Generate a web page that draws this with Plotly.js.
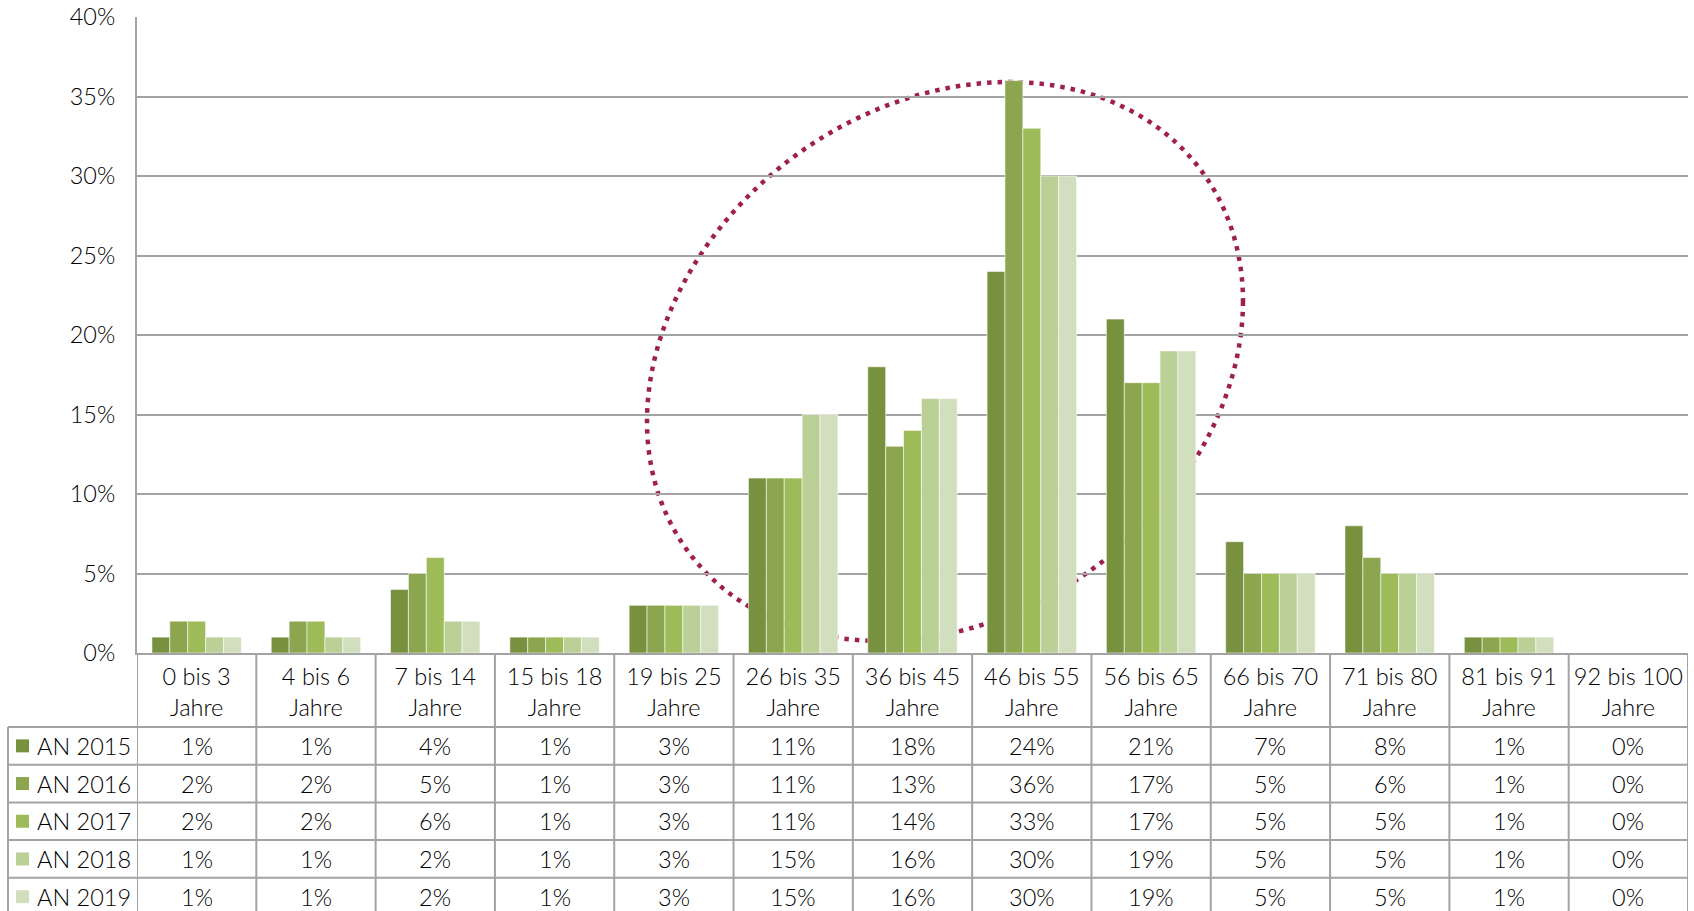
<!DOCTYPE html>
<html>
<head>
<meta charset="utf-8">
<script src="https://cdn.plot.ly/plotly-3.0.1.min.js"></script>
<style>html,body{margin:0;padding:0;background:#fff;}#chart{width:1694px;height:911px;}</style>
</head>
<body>
<div id="chart"></div>
<script>
// ---- data ----
const categories = ['0 bis 3<br>Jahre', '4 bis 6<br>Jahre', '7 bis 14<br>Jahre', '15 bis 18<br>Jahre', '19 bis 25<br>Jahre', '26 bis 35<br>Jahre', '36 bis 45<br>Jahre', '46 bis 55<br>Jahre', '56 bis 65<br>Jahre', '66 bis 70<br>Jahre', '71 bis 80<br>Jahre', '81 bis 91<br>Jahre', '92 bis 100<br>Jahre'];
const seriesNames = ['AN 2015', 'AN 2016', 'AN 2017', 'AN 2018', 'AN 2019'];
const an2015 = [1, 1, 4, 1, 3, 11, 18, 24, 21, 7, 8, 1, 0];
const an2016 = [2, 2, 5, 1, 3, 11, 13, 36, 17, 5, 6, 1, 0];
const an2017 = [2, 2, 6, 1, 3, 11, 14, 33, 17, 5, 5, 1, 0];
const an2018 = [1, 1, 2, 1, 3, 15, 16, 30, 19, 5, 5, 1, 0];
const an2019 = [1, 1, 2, 1, 3, 15, 16, 30, 19, 5, 5, 1, 0];
const yTickVals = [0, 5, 10, 15, 20, 25, 30, 35, 40];
const yTickText = ['0%', '5%', '10%', '15%', '20%', '25%', '30%', '35%', '40%'];

// ---- style ----
const seriesValues = [an2015, an2016, an2017, an2018, an2019];
const colors = ['#77913f', '#8ba64f', '#9dbb59', '#bbd097', '#d2dfbe'];
const FONT = 'Lato, "Open Sans", sans-serif';
const FS = 23.5;
const FW = 300;
const TXT = '#000000';
const W = 1694, H = 911;
const L = 137, R = 1688, T = 17, B = 653;
const PW = R - L, PH = B - T;
const headerBottom = 727, rowH = 37.7, legendLeft = 8;
const lineCol = '#a3a3a3';
const px2x = p => (p - L) / PW;
const px2y = p => (B - p) / PH;
const fnt = {family: FONT, size: FS, color: TXT, weight: FW};

const traces = seriesNames.map((n, i) => ({
  type: 'bar', name: n, x: categories, y: seriesValues[i],
  marker: {color: colors[i], line: {color: 'rgba(255,255,255,0.55)', width: 1}},
  hoverinfo: 'x+y+name'
}));

const shapes = [];
const annotations = [];
// table horizontal lines
for (let r = 0; r <= 5; r++) {
  const y = headerBottom + r * rowH;
  shapes.push({type: 'line', xref: 'paper', yref: 'paper', x0: px2x(legendLeft), x1: 1, y0: px2y(y), y1: px2y(y), line: {color: lineCol, width: 2}});
}
// table vertical lines at category boundaries
for (let j = 0; j <= categories.length; j++) {
  shapes.push({type: 'line', xref: 'x', yref: 'paper', x0: j - 0.5, x1: j - 0.5, y0: 0, y1: px2y(H + 20), line: {color: lineCol, width: 2}});
}
shapes.push({type: 'line', xref: 'paper', yref: 'paper', x0: px2x(legendLeft), x1: px2x(legendLeft), y0: px2y(headerBottom), y1: px2y(H + 20), line: {color: lineCol, width: 2}});

// legend cells and values
seriesNames.forEach((n, i) => {
  const cy = headerBottom + rowH * i + rowH / 2;
  shapes.push({type: 'rect', xref: 'paper', yref: 'paper', x0: px2x(16), x1: px2x(29), y0: px2y(cy - 6.5), y1: px2y(cy + 6.5), fillcolor: colors[i], line: {width: 0}});
  annotations.push({xref: 'paper', yref: 'paper', x: px2x(35), y: px2y(cy), xanchor: 'left', yanchor: 'middle', text: n, showarrow: false, font: fnt});
  seriesValues[i].forEach((v, j) => {
    annotations.push({xref: 'x', yref: 'paper', x: categories[j], y: px2y(cy), xanchor: 'center', yanchor: 'middle', text: v + '%', showarrow: false, font: fnt});
  });
});

// dotted ellipse highlight
const ex = 945, ey = 361.5, ax = 298, ay = 279.5, dl = 0.2164;
let path = '';
for (let k = 0; k <= 180; k++) {
  const t = 2 * Math.PI * k / 180;
  const x = ex + ax * Math.cos(t);
  const y = ey + ay * Math.sin(t - dl);
  path += (k === 0 ? 'M' : 'L') + px2x(x).toFixed(5) + ',' + px2y(y).toFixed(5);
}
path += 'Z';
shapes.push({type: 'path', xref: 'paper', yref: 'paper', path: path, layer: 'between', line: {color: '#9e1f50', width: 4.5, dash: '4.5px,6px'}});

const layout = {
  width: W, height: H,
  margin: {l: L, r: W - R, t: T, b: H - B, pad: 0},
  paper_bgcolor: '#ffffff', plot_bgcolor: '#ffffff',
  barmode: 'group', bargap: 0.25, bargroupgap: 0,
  showlegend: false,
  font: fnt,
  xaxis: {
    type: 'category', range: [-0.5, categories.length - 0.5], fixedrange: true,
    showline: true, linecolor: lineCol, linewidth: 2, showgrid: false,
    ticks: '', tickangle: 0, ticklabelstandoff: 2,
    tickfont: fnt
  },
  yaxis: {
    range: [0, 40], tickvals: yTickVals, ticktext: yTickText, fixedrange: true,
    showgrid: true, gridcolor: lineCol, gridwidth: 2, zeroline: false,
    showline: true, linecolor: lineCol, linewidth: 2,
    ticks: '', ticklabelstandoff: 15,
    tickfont: fnt
  },
  shapes: shapes,
  annotations: annotations
};

Plotly.newPlot('chart', traces, layout, {displayModeBar: false, staticPlot: true});
</script>
</body>
</html>
